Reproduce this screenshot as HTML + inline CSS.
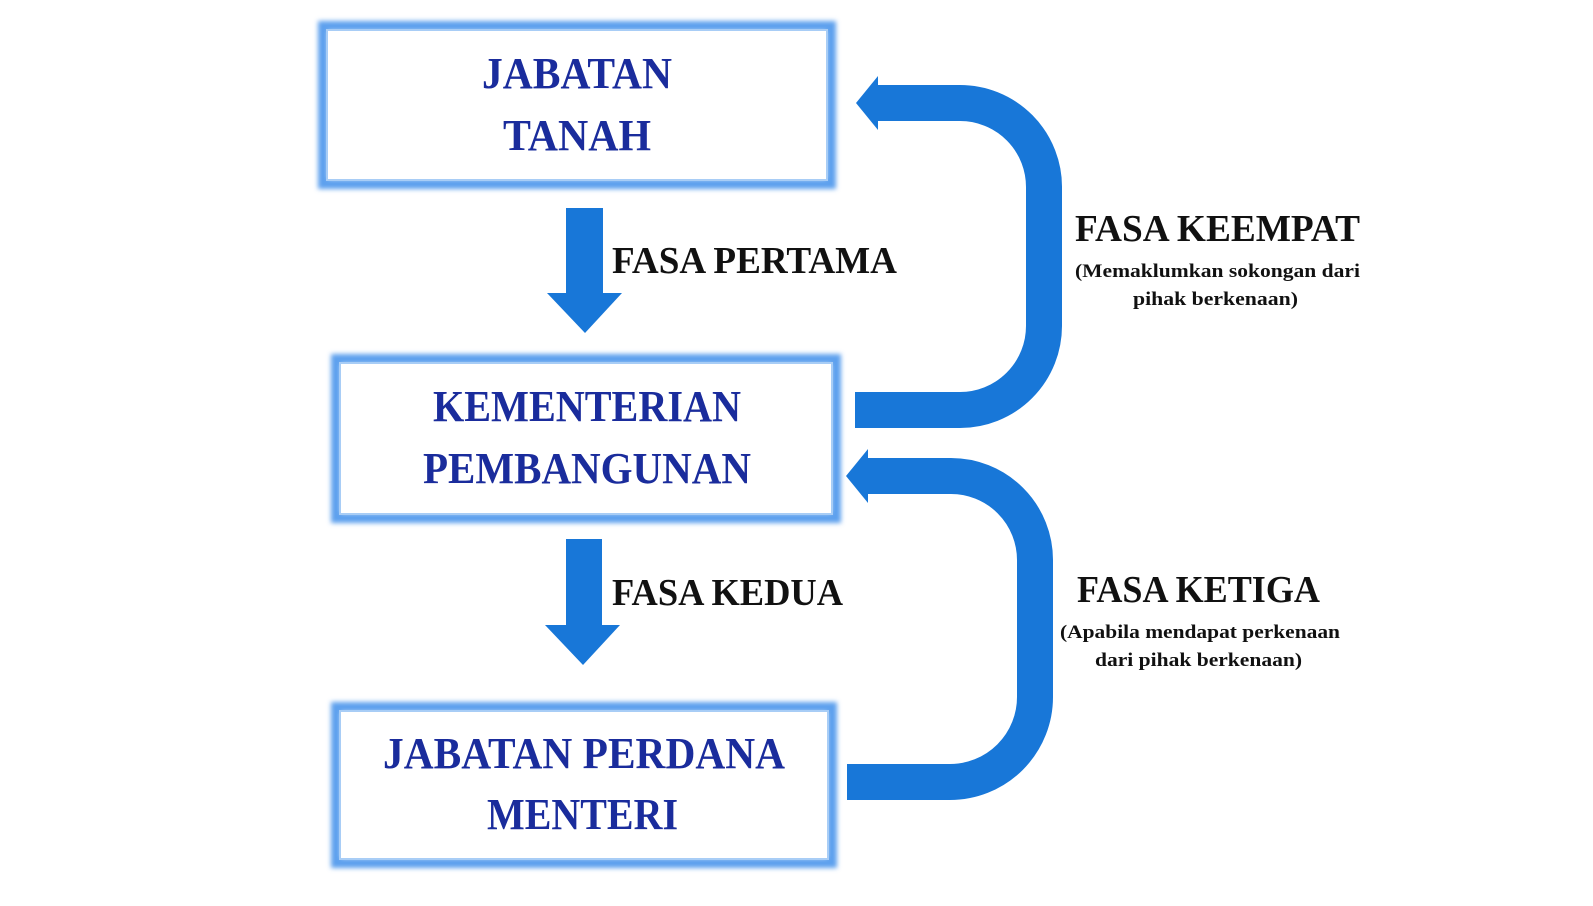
<!DOCTYPE html>
<html><head><meta charset="utf-8"><style>
html,body{margin:0;padding:0;background:#fff;width:1593px;height:906px;overflow:hidden}
</style></head><body>
<svg width="1593" height="906" viewBox="0 0 1593 906" xmlns="http://www.w3.org/2000/svg">
<defs>
<filter id="g" x="-10%" y="-20%" width="120%" height="140%"><feGaussianBlur stdDeviation="2.5"/></filter>
</defs>
<g fill="none" stroke="#5da0ee" stroke-width="10" filter="url(#g)">
<rect x="323" y="26" width="508" height="158"/>
<rect x="336" y="359" width="500" height="159"/>
<rect x="336" y="707" width="496" height="156"/>
</g>
<g fill="#fff" stroke="#a8cdf6" stroke-width="2">
<rect x="327" y="30" width="500" height="150"/>
<rect x="340" y="363" width="492" height="151"/>
<rect x="340" y="711" width="488" height="148"/>
</g>
<g fill="#1877d8">
<rect x="566" y="208" width="37" height="86"/>
<polygon points="547,293 622,293 585,333"/>
<rect x="566" y="539" width="36" height="87"/>
<polygon points="545,625 620,625 583,665"/>
</g>
<g fill="none" stroke="#1877d8" stroke-width="36">
<path d="M855,410 H960 A84,84 0 0 0 1044,326 V188 A84,84 0 0 0 960,103 H876"/>
<path d="M847,782 H950 A85,85 0 0 0 1035,697 V560 A84,84 0 0 0 951,476 H866"/>
</g>
<g fill="#1877d8">
<polygon points="878,76 878,130 856,103"/>
<polygon points="868,449 868,503 846,476"/>
</g>
<g font-family="Liberation Serif, serif" font-weight="bold" fill="#1a2c9c" font-size="44">
<text x="482" y="88" textLength="190" lengthAdjust="spacingAndGlyphs">JABATAN</text>
<text x="503" y="150" textLength="148" lengthAdjust="spacingAndGlyphs">TANAH</text>
<text x="433" y="421" textLength="308" lengthAdjust="spacingAndGlyphs">KEMENTERIAN</text>
<text x="423" y="483" textLength="328" lengthAdjust="spacingAndGlyphs">PEMBANGUNAN</text>
<text x="383" y="768" textLength="402" lengthAdjust="spacingAndGlyphs">JABATAN PERDANA</text>
<text x="487" y="829" textLength="191" lengthAdjust="spacingAndGlyphs">MENTERI</text>
</g>
<g font-family="Liberation Serif, serif" font-weight="bold" fill="#111" font-size="38">
<text x="612" y="273" textLength="285" lengthAdjust="spacingAndGlyphs">FASA PERTAMA</text>
<text x="612" y="605" textLength="231" lengthAdjust="spacingAndGlyphs">FASA KEDUA</text>
<text x="1075" y="241" textLength="285" lengthAdjust="spacingAndGlyphs">FASA KEEMPAT</text>
<text x="1077" y="602" textLength="243" lengthAdjust="spacingAndGlyphs">FASA KETIGA</text>
</g>
<g font-family="Liberation Serif, serif" font-weight="bold" fill="#111" font-size="19">
<text x="1075" y="277" textLength="285" lengthAdjust="spacingAndGlyphs">(Memaklumkan sokongan dari</text>
<text x="1133" y="305" textLength="165" lengthAdjust="spacingAndGlyphs">pihak berkenaan)</text>
<text x="1060" y="638" textLength="280" lengthAdjust="spacingAndGlyphs">(Apabila mendapat perkenaan</text>
<text x="1095" y="666" textLength="207" lengthAdjust="spacingAndGlyphs">dari pihak berkenaan)</text>
</g>
</svg>
</body></html>
